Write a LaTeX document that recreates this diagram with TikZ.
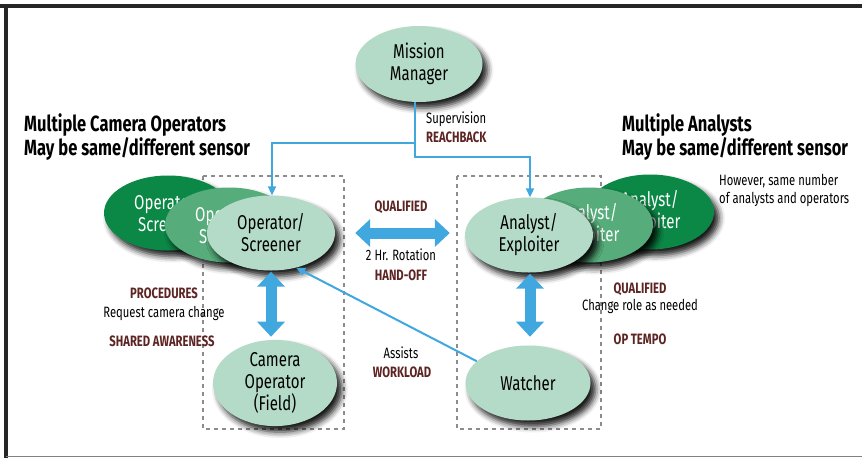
\documentclass[tikz,border=0pt]{standalone}
\usepackage{fontspec}
\setmainfont{Fira Sans}[FakeStretch=0.75]
\usetikzlibrary{arrows.meta,shadows.blur,shapes.geometric}
\definecolor{lightg}{RGB}{180,218,200}
\definecolor{midg}{RGB}{86,172,122}
\definecolor{darkg}{RGB}{12,136,70}
\definecolor{linkblue}{RGB}{64,168,222}
\definecolor{keyred}{RGB}{92,36,34}
\definecolor{dashgray}{RGB}{140,140,140}
\begin{document}
\begin{tikzpicture}[x=1pt,y=-1pt,
  role/.style={ellipse, draw=none, minimum width=128pt, minimum height=75pt, inner sep=0pt, align=center,
    font=\fontsize{20}{22}\selectfont,
    blur shadow={shadow xshift=5pt, shadow yshift=-6pt, shadow blur radius=6pt, shadow opacity=90}},
  front/.style={role, fill=lightg, text=black},
  midrole/.style={role, fill=midg, text=white},
  backrole/.style={role, fill=darkg, text=white},
  thinlink/.style={draw=linkblue, line width=2pt, -{Triangle[length=9pt,width=8pt]}},
  biglink/.style={draw=linkblue, line width=11pt, {Triangle[length=15pt,width=27pt]}-{Triangle[length=15pt,width=27pt]}},
  grpbox/.style={draw=dashgray, line width=1.8pt, dash pattern=on 4pt off 4pt},
  note/.style={font=\fontsize{15}{18}\selectfont, inner sep=0pt},
  keyword/.style={font=\bfseries\fontsize{15}{18}\selectfont, text=keyred, inner sep=0pt},
  heading/.style={font=\bfseries\fontsize{22}{24}\selectfont, inner sep=0pt}
]
\useasboundingbox (0,0) rectangle (862,458);
% frame
\draw[line width=4pt, draw=black!85] (0,6) -- (862,6);
\draw[line width=4.5pt, draw=black!85] (6,4) -- (6,458);
\draw[line width=1pt, draw=gray] (6,456) -- (862,456);

% dashed group boxes
\draw[grpbox] (203,176) rectangle (344,429);
\draw[grpbox] (457,176) rectangle (601,429);

% mission manager
\node[front, minimum width=127pt, minimum height=76pt] (mm) at (419,64) {Mission\\Manager};

% operators stack
\node[backrole] (opc) at (168,213) {Operator/\\Screener};
\node[midrole] (opb) at (229,225) {Operator/\\Screener};
\node[front] (op) at (271,233) {Operator/\\Screener};

% analysts stack
\node[backrole] (anc) at (650,212) {Analyst/\\Exploiter};
\node[midrole] (anb) at (589,225) {Analyst/\\Exploiter};
\node[front] (an) at (529,235) {Analyst/\\Exploiter};

% lower nodes
\node[front, minimum width=124pt, minimum height=74pt] (cam) at (275,383) {Camera\\Operator\\(Field)};
\node[front, minimum width=125pt, minimum height=75pt] (wa) at (528,383) {Watcher};

% supervision connectors
\coordinate (mmfoot) at ([xshift=-4pt]mm.south);
\coordinate (j1) at (415,143);
\coordinate (j2) at (415,157);
\draw[thinlink] (mmfoot) -- (j1) -| ([xshift=1pt]op.north);
\draw[thinlink] (j1) -- (j2) -| ([xshift=1pt]an.north);

% assists connector
\draw[thinlink] (wa.157) -- (op.-54);

% big double arrows
\draw[biglink] ([yshift=-1pt]op.south) -- ([yshift=3pt]op.south |- cam.north);
\draw[biglink] ([xshift=1pt,yshift=-1pt]an.south) -- ([xshift=1pt,yshift=3pt]an.south |- cam.north);
\draw[biglink] ([xshift=20pt]op.east) -- ([xshift=-15pt]op.east -| an.west);

% headings
\node[heading, anchor=base west] (h1a) at (24,131) {Multiple Camera Operators};
\node[heading, anchor=base west] (h1b) at (24,155) {May be same/different sensor};
\node[heading, anchor=base west] (h2a) at (622,131) {Multiple Analysts};
\node[heading, anchor=base west] (h2b) at (622,155) {May be same/different sensor};
\node[note, anchor=base west] (hw1) at (719,185) {However, same number};
\node[note, anchor=base west] (hw2) at (719,203) {of analysts and operators};

% supervision labels
\node[note, anchor=base west] (sup) at (426,123) {Supervision};
\node[keyword, anchor=base west] (reach) at (426,142) {REACHBACK};

% hand-off labels
\node[keyword, anchor=base] (q1) at (401,211) {QUALIFIED};
\node[note, anchor=base] (rot) at (401,260) {2 Hr. Rotation};
\node[keyword, anchor=base] (hand) at (401,280) {HAND-OFF};

% left labels
\node[keyword, anchor=base] (proc) at (164,298) {PROCEDURES};
\node[note, anchor=base] (req) at (164,317) {Request camera change};
\node[keyword, anchor=base] (shared) at (162,346) {SHARED AWARENESS};

% right labels
\node[keyword, anchor=base] (q2) at (640,293) {QUALIFIED};
\node[note, anchor=base] (chg) at (640,310) {Change role as needed};
\node[keyword, anchor=base] (tempo) at (640,344) {OP TEMPO};

% assists labels
\node[note, anchor=base] (ass) at (401,358) {Assists};
\node[keyword, anchor=base] (work) at (402,377) {WORKLOAD};
\end{tikzpicture}
\end{document}
